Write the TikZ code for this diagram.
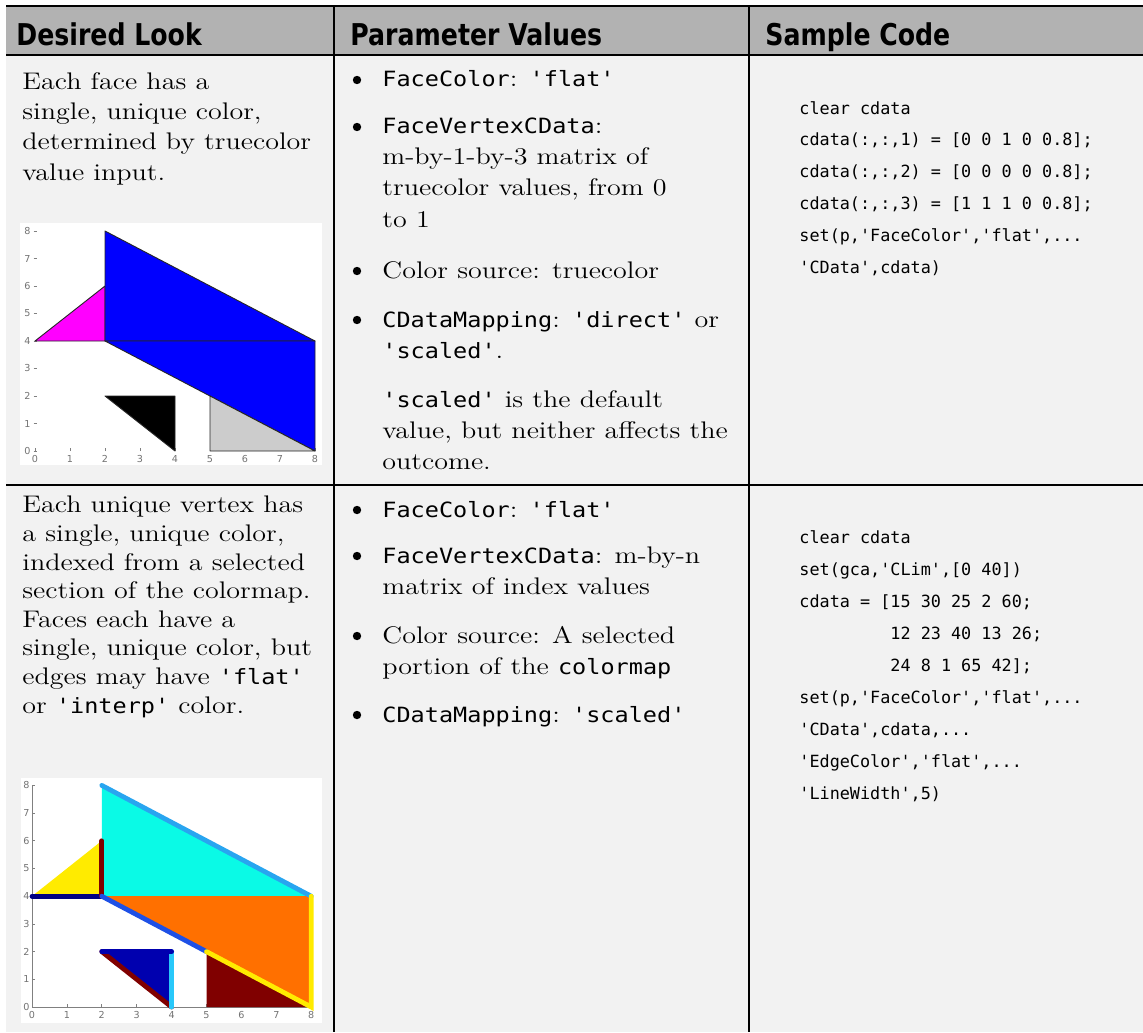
\documentclass[tikz,border=0pt]{standalone}
\usepackage{fontspec}
\newfontfamily\descfont{lmroman12-regular.otf}[FakeStretch=1.17]
\newfontfamily\monofont{DejaVu Sans Mono}[FakeStretch=1.12,Ligatures=TeXOff]
\newfontfamily\codefont{DejaVu Sans Mono}[Ligatures=TeXOff]
\newfontfamily\headfont{DejaVu Sans}[FakeStretch=0.84]
\newfontfamily\tickfont{DejaVu Sans}
\newcommand{\mtt}[1]{{\monofont\fontsize{10.5}{15}\selectfont #1}}

\definecolor{headgray}{gray}{0.70}
\definecolor{cellgray}{gray}{0.95}
\definecolor{facemagenta}{RGB}{255,0,255}
\definecolor{faceblue}{RGB}{0,0,255}
\definecolor{facecyan}{RGB}{10,250,230}
\definecolor{faceyellow}{RGB}{255,235,0}
\definecolor{faceorange}{RGB}{255,112,0}
\definecolor{facenavy}{RGB}{0,0,175}
\definecolor{facemaroon}{RGB}{128,0,0}
\definecolor{edgesky}{RGB}{40,165,240}
\definecolor{edgenavy}{RGB}{0,0,130}
\definecolor{edgeblue}{RGB}{30,80,230}
\definecolor{edgeaqua}{RGB}{40,200,250}

\begin{document}
\begin{tikzpicture}[x=0.5pt, y=-0.5pt]
    \tikzstyle{rule}=[line width=1.3pt]
    \tikzstyle{head}=[anchor=base west, inner sep=0pt,
                      font=\headfont\bfseries\fontsize{15}{15}\selectfont]
    \tikzstyle{desc}=[anchor=base west, inner sep=0pt, align=left,
                      font=\descfont\fontsize{12}{14.75}\selectfont]
    \tikzstyle{param}=[anchor=base west, inner sep=0pt, align=left,
                      font=\descfont\fontsize{12}{15.5}\selectfont]
    \tikzstyle{code}=[anchor=base west, inner sep=0pt, align=left,
                      font=\codefont\fontsize{8.4}{15.95}\selectfont]
    \tikzstyle{bul}=[circle, fill=black, inner sep=0pt, minimum size=4.2pt]
    \tikzstyle{tick}=[inner sep=0pt, text=black!55,
                      font=\tickfont\fontsize{4.8}{4.8}\selectfont]
    \tikzstyle{face}=[draw=black!85, line width=0.45pt, line join=round]
    \tikzstyle{edge}=[line width=2.4pt, line cap=round]

    \useasboundingbox (0,0) rectangle (1143,1032);

    % table
    \fill[headgray] (6,6) rectangle (1143,55);
    \fill[cellgray] (6,55) rectangle (1143,1032);
    \draw[rule] (6,6) -- (1143,6);
    \draw[rule] (6,55) -- (1143,55);
    \draw[rule] (6,485) -- (1143,485);
    \draw[rule] (334,6) -- (334,1032);
    \draw[rule] (749,6) -- (749,1032);

    \node[head] (hlook) at (16,46) {Desired Look};
    \node[head] (hparam) at (350,46) {Parameter Values};
    \node[head] (hcode) at (765,46) {Sample Code};

    % row 1 (multi-line nodes sit on their last baseline)
    \node[desc, font=\descfont\fontsize{12}{15.15}\selectfont] (look1) at (22,180)
        {Each face has a\\single, unique color,\\determined by truecolor\\value input.};

    \node[bul] (b11) at (357,80) {};
    \node[bul] (b12) at (357,127) {};
    \node[bul] (b13) at (357,271) {};
    \node[bul] (b14) at (357,320) {};
    \node[param] (p11) at (382,87) {\mtt{FaceColor}: \mtt{'flat'}};
    \node[param] (p12) at (382,227) {\mtt{FaceVertexCData}:\\m-by-1-by-3 matrix of\\
        truecolor values, from 0\\to 1};
    \node[param] (p13) at (382,278) {Color source: truecolor};
    \node[param] (p14) at (382,358) {\mtt{CDataMapping}: \mtt{'direct'} or\\
        \mtt{'scaled'}.};
    \node[param] (p15) at (382,469) {\mtt{'scaled'} is the default\\
        value, but neither affects the\\outcome.};

    \node[code] (code1) at (799,273.5) {clear cdata\\
        cdata(:,:,1) = [0 0 1 0 0.8];\\
        cdata(:,:,2) = [0 0 0 0 0.8];\\
        cdata(:,:,3) = [1 1 1 0 0.8];\\
        set(p,'FaceColor','flat',...\\
        'CData',cdata)};

    % plot: truecolor faces
    \fill[white] (20,223) rectangle (322,465);
    \begin{scope}[shift={(35,451)}, x=17.5pt, y=13.75pt]
      \foreach \k in {0,...,8} {
        \node[tick, anchor=east] (pa-y\k) at (-0.12,\k) {\k};
        \draw[black!50, line width=0.4pt] (-0.04,\k) -- (0.06,\k);
        \node[tick, anchor=north] (pa-x\k) at (\k,-0.16) {\k};
        \draw[black!50, line width=0.4pt] (\k,0) -- (\k,0.12);
      }
      \filldraw[face, fill=facemagenta] (0,4) -- (2,4) -- (2,6) -- cycle;
      \filldraw[face, fill=faceblue] (2,4) -- (2,8) -- (8,4) -- cycle;
      \filldraw[face, fill=faceblue] (2,4) -- (8,4) -- (8,0) -- (5,2) -- cycle;
      \filldraw[face, fill=black] (2,2) -- (4,2) -- (4,0) -- cycle;
      \filldraw[face, fill=black!20] (5,0) -- (5,2) -- (8,0) -- cycle;
    \end{scope}

    % row 2
    \node[desc, font=\descfont\fontsize{12}{14.3}\selectfont] (look2) at (22,713)
        {Each unique vertex has\\a single, unique color,\\
        indexed from a selected\\section of the colormap.\\Faces each have a\\
        single, unique color, but\\edges may have \mtt{'flat'}\\
        or \mtt{'interp'} color.};

    \node[bul] (b21) at (357,510) {};
    \node[bul] (b22) at (357,556) {};
    \node[bul] (b23) at (357,636) {};
    \node[bul] (b24) at (357,715) {};
    \node[param] (p21) at (382,517) {\mtt{FaceColor}: \mtt{'flat'}};
    \node[param] (p22) at (382,594) {\mtt{FaceVertexCData}: m-by-n\\
        matrix of index values};
    \node[param] (p23) at (382,674) {Color source: A selected\\
        portion of the \mtt{colormap}};
    \node[param] (p24) at (382,722) {\mtt{CDataMapping}: \mtt{'scaled'}};

    \node[code, font=\codefont\fontsize{8.4}{16}\selectfont] (code2) at (799,799) {clear cdata\\
        set(gca,'CLim',[0 40])\\
        cdata = [15 30 25 2 60;\\
        \phantom{cdata = [}12 23 40 13 26;\\
        \phantom{cdata = [}24 8 1 65 42];\\
        set(p,'FaceColor','flat',...\\
        'CData',cdata,...\\
        'EdgeColor','flat',...\\
        'LineWidth',5)};

    % plot: indexed faces, flat edges
    \fill[white] (21,778) rectangle (322,1023);
    \begin{scope}[shift={(32,1007)}, x=17.45pt, y=13.85pt]
      \draw[black!50, line width=0.5pt] (0,8) -- (0,0) -- (8,0);
      \foreach \k in {0,...,8} {
        \node[tick, anchor=east] (pb-y\k) at (-0.06,\k) {\k};
        \draw[black!50, line width=0.4pt] (0,\k) -- (0.08,\k);
        \node[tick, anchor=north] (pb-x\k) at (\k,-0.14) {\k};
        \draw[black!50, line width=0.4pt] (\k,0) -- (\k,0.1);
      }
      \fill[facecyan] (2,4) -- (2,8) -- (8,4) -- cycle;
      \fill[faceyellow] (0,4) -- (2,4) -- (2,6) -- cycle;
      \fill[faceorange] (2,4) -- (8,4) -- (8,0) -- (5,2) -- cycle;
      \fill[facenavy] (2,2) -- (4,2) -- (4,0) -- cycle;
      \fill[facemaroon] (5,0) -- (5,2) -- (8,0) -- cycle;
      \draw[edge, edgesky] (2,8) -- (8,4);
      \draw[edge, edgenavy] (0,4) -- (2,4);
      \draw[edge, facemaroon] (2,4) -- (2,6);
      \draw[edge, edgeblue] (2,4) -- (5,2);
      \draw[edge, faceyellow] (5,2) -- (8,0) -- (8,4);
      \draw[edge, facemaroon] (2,2) -- (4,0);
      \draw[edge, edgeaqua] (4,0) -- (4,2);
      \draw[edge, facenavy] (2,2) -- (4,2);
    \end{scope}
\end{tikzpicture}
\end{document}
